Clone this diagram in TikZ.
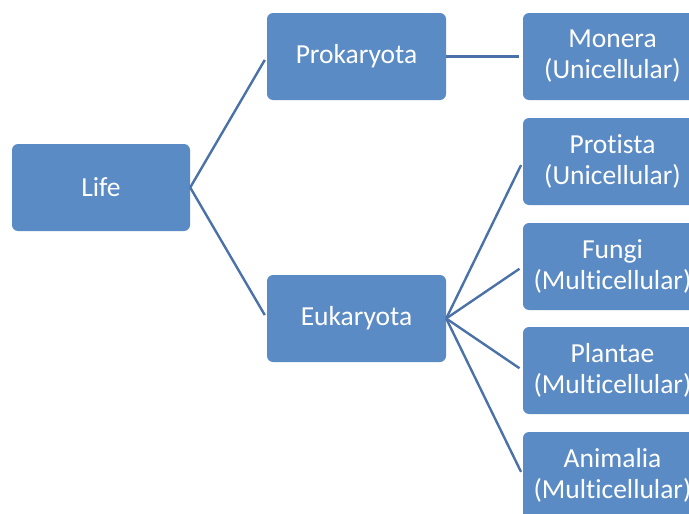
\documentclass[tikz,border=0pt]{standalone}
\usepackage{fontspec}
\setmainfont[Ligatures=NoCommon]{Carlito}
\usepackage{pgf,tikz}
\usetikzlibrary{arrows}

\definecolor{boxblue}{HTML}{5B8BC5}
\definecolor{lineblue}{HTML}{4A72A8}

\tikzset{
  taxon/.style={fill=boxblue, rounded corners=6pt, text=white, minimum width=179pt,
    minimum height=87pt, align=center, inner sep=0pt,
    font=\fontsize{27.5}{31}\selectfont},
  link/.style={draw=lineblue, line width=2.4pt, shorten >=4pt}
}

\begin{document}
\begin{tikzpicture}[x=1pt,y=-1pt]
\useasboundingbox (0,0) rectangle (689,514);
\node [taxon, minimum width=178pt] (life) at (101,187.5) {Life};
\node [taxon] (prok) at (356.5,56.5) {Prokaryota};
\node [taxon] (euk) at (356.5,318.5) {Eukaryota};
\node [taxon] (monera) at (612.5,56.5) {Monera\\(Unicellular)};
\node [taxon] (protista) at (612.5,161.5) {Protista\\(Unicellular)};
\node [taxon] (fungi) at (612.5,266.5) {Fungi\\(Multicellular)};
\node [taxon] (plantae) at (612.5,370.5) {Plantae\\(Multicellular)};
\node [taxon] (animalia) at (612.5,475.5) {Animalia\\(Multicellular)};

\draw [link] (life.east) -- (prok.west);
\draw [link] (life.east) -- (euk.west);
\draw [link] (prok.east) -- (monera.west);
\draw [link] (euk.east) -- (protista.west);
\draw [link] (euk.east) -- (fungi.west);
\draw [link] (euk.east) -- (plantae.west);
\draw [link] (euk.east) -- (animalia.west);
\end{tikzpicture}
\end{document}
